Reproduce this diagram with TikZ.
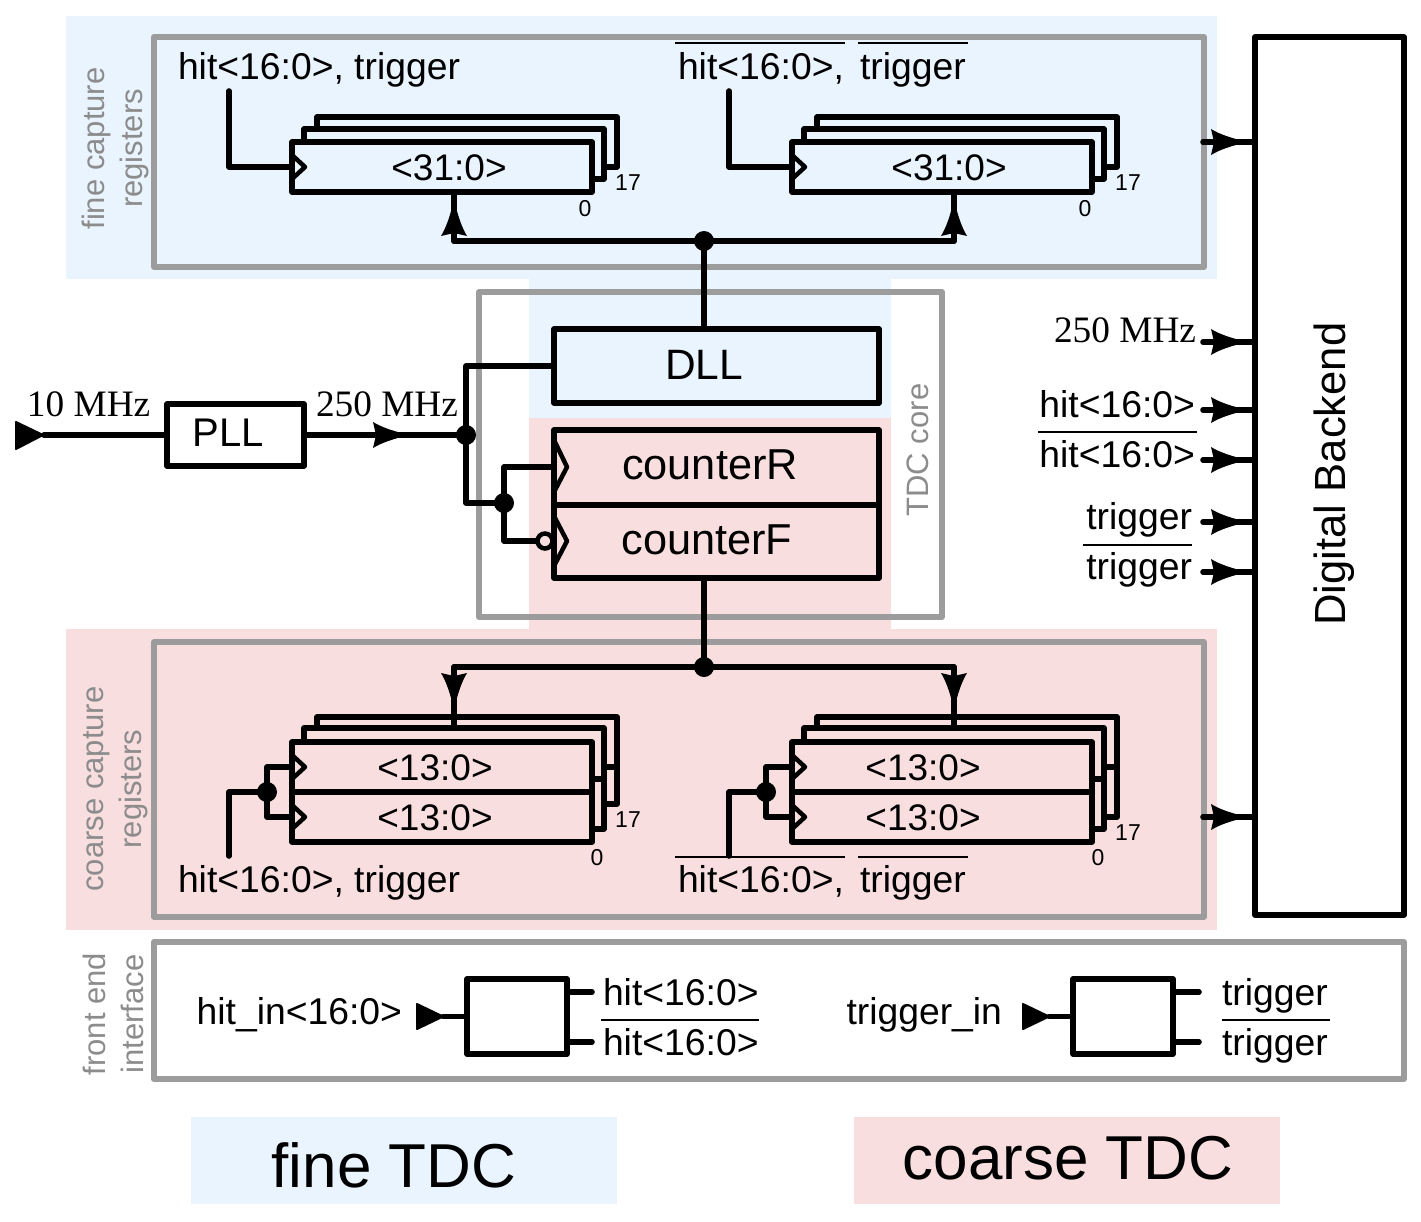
\documentclass[tikz,border=0pt]{standalone}
\usepackage{fontspec}
\setmainfont{Liberation Sans}
\newfontfamily\timesf{Liberation Serif}
\definecolor{fineblue}{HTML}{E9F4FE}
\definecolor{coarsepink}{HTML}{F9DEDF}
\definecolor{framegray}{HTML}{9C9C9C}
\definecolor{labelgray}{HTML}{8C8C8C}
\newcommand{\sz}[1]{\fontsize{#1}{#1}\selectfont}
\tikzset{
  x=1pt,y=-1pt,
  wire/.style={line width=5.6pt,line join=round,line cap=round,black},
  thinw/.style={line width=4.5pt,line join=round,black},
  frame/.style={draw=framegray,line width=5.8pt,line join=round},
  blk/.style={draw=black,line width=5.6pt,line join=round},
  bar/.style={line width=2.8pt,black},
  txt/.style={font=\sz{37.3},inner sep=0pt,outer sep=0pt,anchor=base west},
  txtr/.style={font=\sz{37.3},inner sep=0pt,outer sep=0pt,anchor=base east},
  ctr/.style={font=\sz{37},inner sep=0pt,outer sep=0pt,anchor=center},
  tiny/.style={font=\sz{23},inner sep=0pt,outer sep=0pt,anchor=center},
  side/.style={font=\fontsize{31}{38}\selectfont,text=labelgray,rotate=90,align=center,inner sep=0pt,anchor=center},
  dot/.style={circle,fill=black,draw=none,minimum size=20pt,inner sep=0pt},
}
% box as a named node from corner coordinates
\newcommand{\bx}[6]{%
  \pgfmathsetmacro{\bw}{#4-#2}\pgfmathsetmacro{\bh}{#5-#3}%
  \pgfmathsetmacro{\bcx}{(#4+#2)/2}\pgfmathsetmacro{\bcy}{(#5+#3)/2}%
  \node[#6,inner sep=0pt,outer sep=0pt,minimum width=\bw pt,minimum height=\bh pt] (#1) at (\bcx,\bcy) {};}
% concave arrow head, tip at coordinate
\newcommand{\ahead}[2]{\fill[black,shift={(#1)},rotate=#2] (0,1) .. controls (-11,4) and (-22,7) .. (-32,13) -- (-29,0) -- (-32,-13) .. controls (-22,-7) and (-11,-4) .. (0,-1) -- cycle;}
\newcommand{\clk}[2]{\draw[thinw] (#1,#2-12) -- (#1+13,#2) -- (#1,#2+12);}
\begin{document}
\begin{tikzpicture}
\useasboundingbox (0,0) rectangle (1421,1221);
\fill[white] (0,0) rectangle (1421,1221);
% colour regions
\bx{bgfine}{66}{16}{1217}{279}{fill=fineblue}
\bx{bgcoarse}{66}{629}{1217}{930}{fill=coarsepink}
\bx{bgdll}{529}{279}{891}{418}{fill=fineblue}
\bx{bgcnt}{529}{418}{891}{630}{fill=coarsepink}
\bx{legfine}{191}{1117}{617}{1204}{fill=fineblue}
\bx{legcoarse}{854}{1117}{1280}{1204}{fill=coarsepink}
% gray frames
\bx{frfine}{154}{37}{1204}{267}{frame}
\bx{frcoarse}{154}{642}{1204}{917}{frame}
\bx{frcore}{479}{292}{942}{617}{frame}
\bx{frfront}{154}{942}{1404}{1079}{frame}
% side labels
\node[side] (lfine) at (115.5,148.5) {fine capture\\registers};
\node[side] (lcoarse) at (116,789) {coarse capture\\registers};
\node[side] (lfront) at (113.5,1014) {front end\\interface};
\node[side] (lcore) at (918,450) {TDC core};
% main blocks
\bx{backend}{1255}{37}{1404}{915}{blk,fill=white}
\node[font=\sz{43.6},rotate=90,inner sep=0pt] (lback) at (1334,474) {Digital Backend};
\bx{dll}{554}{329}{879}{403}{blk}
\node[font=\sz{42.5},inner sep=0pt] (ldll) at (704,365) {DLL};
\bx{cntr}{554}{430}{879}{505}{blk}
\bx{cntf}{554}{505}{879}{578}{blk}
\node[font=\sz{43.3},inner sep=0pt] (lcr) at (710,465) {counterR};
\node[font=\sz{43.3},inner sep=0pt] (lcf) at (707,540) {counterF};
\bx{pll}{167}{404}{304}{466}{blk,fill=white}
\node[font=\sz{40},inner sep=0pt] (lpll) at (228,433) {PLL};
% clock input
\coordinate (inclk) at (44,435);
\coordinate (tipclk) at (405,435);
\coordinate (j1) at (466,435);
\coordinate (j2) at (504,503);
\coordinate (bub) at (545,541);
\fill[black,line join=round,draw=black,line width=2pt] (16,422) -- (43,435) -- (16,449) -- cycle;
\draw[wire] (inclk) -- (pll.west);
\draw[wire] (pll.east) -- (j1);
\ahead{tipclk}{0}
\draw[wire] (dll.west) -| (j1);
\draw[wire] (j1) |- (j2);
\draw[wire] (j2) |- (cntr.west |- 0,467);
\draw[wire] (j2) |- (bub);
\node[dot] (d1) at (j1) {};
\node[dot] (d2) at (j2) {};
\node[circle,draw=black,fill=coarsepink,line width=4.5pt,minimum size=15pt,inner sep=0pt] (bubn) at (bub) {};
\draw[thinw] (554,440) -- (567,467) -- (554,492);
\draw[thinw] (554,516) -- (567,541) -- (554,566);
\node[txt,font=\timesf\sz{37.3}] (t10) at (27,416) {10 MHz};
\node[txt,font=\timesf\sz{37.3}] (t250) at (316,416) {250 MHz};
% fine registers
\bx{fa}{292}{142}{592}{192}{blk}
\bx{fb}{792}{142}{1092}{192}{blk}
\foreach \d in {0,500}{
  \draw[wire] (304+\d,142) -- (304+\d,129) -- (604+\d,129) -- (604+\d,179) -- (592+\d,179);
  \draw[wire] (317+\d,129) -- (317+\d,117) -- (617+\d,117) -- (617+\d,167) -- (604+\d,167);
  \clk{292+\d}{167}
}
\node[ctr] (fat) at (449,168) {<31:0>};
\node[ctr] (fbt) at (949,168) {<31:0>};
\node[tiny] (f17a) at (628,183) {17};
\node[tiny] (f0a) at (585,209) {0};
\node[tiny] (f17b) at (1128,183) {17};
\node[tiny] (f0b) at (1085,209) {0};
\coordinate (fw1) at (229,91);
\coordinate (fw2) at (729,91);
\draw[wire] (fw1) |- (fa.west |- 0,167);
\draw[wire] (fw2) |- (fb.west |- 0,167);
\coordinate (fj) at (704,241);
\coordinate (fbl) at (454,241);
\coordinate (fbr) at (954,241);
\draw[wire] (fbl) -- (fbr);
\draw[wire] (fbl) -- (fbl |- fa.south);
\draw[wire] (fbr) -- (fbr |- fb.south);
\draw[wire] (fj) -- (fj |- dll.north);
\node[dot] (d3) at (fj) {};
\coordinate (fh1) at (454,204);
\coordinate (fh2) at (954,204);
\ahead{fh1}{90}
\ahead{fh2}{90}
\node[txt] (ft1) at (178,79) {hit<16:0>, trigger};
\node[txt] (ft2) at (678,79) {hit<16:0>,};
\node[txt] (ft3) at (860,79) {trigger};
\draw[bar] (675,43) -- (845,43);
\draw[bar] (858,43) -- (968,43);
% coarse registers
\bx{ca}{292}{742}{592}{792}{blk}
\bx{cb}{292}{792}{592}{842}{blk}
\bx{cc}{792}{742}{1092}{792}{blk}
\bx{cd}{792}{792}{1092}{842}{blk}
\draw[wire] (304,742) -- (304,728) -- (604,728) -- (604,829) -- (592,829);
\draw[wire] (592,779) -- (604,779);
\draw[wire] (317,728) -- (317,717) -- (617,717) -- (617,804) -- (604,804);
\draw[wire] (604,767) -- (617,767);
\draw[wire] (804,742) -- (804,728) -- (1104,728) -- (1104,829) -- (1092,829);
\draw[wire] (1092,779) -- (1104,779);
\draw[wire] (817,728) -- (817,717) -- (1117,717) -- (1117,817) -- (1104,817);
\draw[wire] (1104,767) -- (1117,767);
\foreach \d in {0,500}{
  \clk{292+\d}{767}
  \clk{292+\d}{817}
}
\node[ctr] (ct1) at (435,768) {<13:0>};
\node[ctr] (ct2) at (435,818) {<13:0>};
\node[ctr] (ct3) at (923,768) {<13:0>};
\node[ctr] (ct4) at (923,818) {<13:0>};
\node[tiny] (c17a) at (628,820) {17};
\node[tiny] (c0a) at (597,858) {0};
\node[tiny] (c17b) at (1128,833) {17};
\node[tiny] (c0b) at (1098,858) {0};
\coordinate (cw1) at (229,856);
\coordinate (cw2) at (729,856);
\coordinate (cj1) at (267,792);
\coordinate (cj2) at (766,792);
\draw[wire] (cw1) |- (cj1);
\draw[wire] (cw2) |- (cj2);
\draw[wire] (cj1) |- (ca.west |- 0,767);
\draw[wire] (cj1) |- (cb.west |- 0,817);
\draw[wire] (cj2) |- (cc.west |- 0,767);
\draw[wire] (cj2) |- (cd.west |- 0,817);
\node[dot] (d4) at (cj1) {};
\node[dot] (d5) at (cj2) {};
\coordinate (cj) at (704,667);
\coordinate (cbl) at (454,667);
\coordinate (cbr) at (954,667);
\draw[wire] (cntf.south -| cj) -- (cj);
\draw[wire] (cbl) -- (cbr);
\coordinate (cel) at (454,728);
\coordinate (cer) at (954,728);
\draw[wire] (cbl) -- (cel);
\draw[wire] (cbr) -- (cer);
\node[dot] (d6) at (cj) {};
\coordinate (ch1) at (454,705);
\coordinate (ch2) at (954,705);
\ahead{ch1}{-90}
\ahead{ch2}{-90}
\node[txt] (ct5) at (178,892) {hit<16:0>, trigger};
\node[txt] (ct6) at (678,892) {hit<16:0>,};
\node[txt] (ct7) at (860,892) {trigger};
\draw[bar] (675,857) -- (845,857);
\draw[bar] (858,857) -- (968,857);
% backend inputs
\foreach \yy/\nm in {142/a,342/b,410/c,460/d,522/e,572/f,817/g}{
  \coordinate (s\nm) at (1203,\yy);
  \coordinate (h\nm) at (1243,\yy);
  \draw[wire] (s\nm) -- (backend.west |- s\nm);
  \ahead{h\nm}{0}
}
\node[txtr,font=\timesf\sz{37.3}] (b250) at (1196,342) {250 MHz};
\node[txtr] (bh1) at (1195,417) {hit<16:0>};
\node[txtr] (bh2) at (1195,467) {hit<16:0>};
\node[txtr] (bt1) at (1192,529) {trigger};
\node[txtr] (bt2) at (1192,579) {trigger};
\draw[bar] (1038,432) -- (1197,432);
\draw[bar] (1083,545) -- (1192,545);
% front end interface
\bx{fe1}{467}{979}{567}{1054}{blk,fill=white}
\bx{fe2}{1073}{979}{1173}{1054}{blk,fill=white}
\coordinate (fi1) at (443,1016.5);
\coordinate (fi2) at (1049,1016.5);
\fill[black,draw=black,line width=2pt,line join=round] (417,1004) -- (443,1016.5) -- (417,1029) -- cycle;
\fill[black,draw=black,line width=2pt,line join=round] (1023,1004) -- (1049,1016.5) -- (1023,1029) -- cycle;
\draw[wire] (fi1) -- (fe1.west);
\draw[wire] (fi2) -- (fe2.west);
\coordinate (o1) at (592,992);
\coordinate (o2) at (592,1042);
\coordinate (o3) at (1199,992);
\coordinate (o4) at (1199,1042);
\draw[wire] (fe1.east |- o1) -- (o1);
\draw[wire] (fe1.east |- o2) -- (o2);
\draw[wire] (fe2.east |- o3) -- (o3);
\draw[wire] (fe2.east |- o4) -- (o4);
\node[txtr] (fl1) at (402,1024) {hit\_in<16:0>};
\node[txtr] (fl2) at (1002,1024) {trigger\_in};
\node[txt] (fl3) at (603,1005) {hit<16:0>};
\node[txt] (fl4) at (603,1055) {hit<16:0>};
\node[txt] (fl5) at (1222,1005) {trigger};
\node[txt] (fl6) at (1222,1055) {trigger};
\draw[bar] (601,1020) -- (759,1020);
\draw[bar] (1222,1020) -- (1330,1020);
% legend
\node[font=\sz{62},inner sep=0pt] (lf) at (394,1165) {fine TDC};
\node[font=\sz{62},inner sep=0pt] (lc) at (1068,1158) {coarse TDC};
\end{tikzpicture}
\end{document}
